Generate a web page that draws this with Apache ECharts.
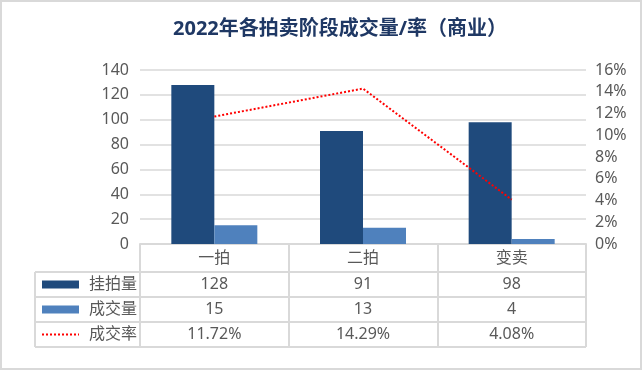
<!DOCTYPE html>
<html><head><meta charset="utf-8">
<script src="https://cdn.jsdelivr.net/npm/echarts@6/dist/echarts.min.js"></script>
<style>html,body{margin:0;padding:0;background:#fff}#c{width:644px;height:372px}</style>
</head><body><div id="c"></div>
<script>
const categories = ['一拍', '二拍', '变卖'];
const listed = [128, 91, 98];
const dealt = [15, 13, 4];
const rate = [11.72, 14.29, 4.08];
const seriesNames = ['挂拍量', '成交量', '成交率'];
const leftTicks = [0, 140, 20];
const rightTicks = [0, 16, 2];

const FONT = "'Noto Sans','Noto Sans CJK SC',sans-serif";
const GRAY = '#595959';
const LINE = '#D9D9D9';
const C1 = '#1F4A7C', C2 = '#4F81BD', C3 = '#FF0000';
const GL = 140, GR = 586, GT = 70, GB = 244, W = 644, H = 372;
const rows = [272, 297, 322, 347];
const TL = 35;

const chart = echarts.init(document.getElementById('c'), null, {renderer: 'canvas'});

const colW = (GR - GL) / categories.length;
const graphics = [];
graphics.push({type: 'rect', shape: {x: 1, y: 1, width: 640, height: 368}, style: {fill: 'none', stroke: LINE, lineWidth: 2}, silent: true});
rows.forEach(y => graphics.push({type: 'line', shape: {x1: TL, y1: y, x2: GR, y2: y}, style: {stroke: LINE, lineWidth: 2}, silent: true}));
graphics.push({type: 'line', shape: {x1: TL, y1: rows[0], x2: TL, y2: rows[3]}, style: {stroke: LINE, lineWidth: 2}, silent: true});
const rowVals = [listed.map(String), dealt.map(String), rate.map(v => v.toFixed(2) + '%')];
const colors = [C1, C2, C3];
for (let r = 0; r < 3; r++) {
  const cy = (rows[r] + rows[r + 1]) / 2;
  if (r < 2) {
    graphics.push({type: 'rect', shape: {x: 42, y: cy - 4, width: 37, height: 8}, style: {fill: colors[r]}, silent: true});
  } else {
    graphics.push({type: 'line', shape: {x1: 42, y1: cy, x2: 79, y2: cy}, style: {stroke: C3, lineWidth: 2, lineDash: [2, 2]}, silent: true});
  }
  graphics.push({type: 'text', left: 89, top: cy - 11, style: {text: seriesNames[r], font: '16px ' + FONT, fill: GRAY, lineHeight: 22}, silent: true});
  for (let c = 0; c < categories.length; c++) {
    graphics.push({type: 'text', x: GL + colW * (c + 0.5), y: cy, style: {text: rowVals[r][c], font: '16px ' + FONT, fill: GRAY, align: 'center', verticalAlign: 'middle'}, silent: true});
  }
}

chart.setOption({
  animation: false,
  backgroundColor: '#fff',
  title: {
    text: '2022年各拍卖阶段成交量/率（商业）',
    left: 168, top: 14,
    textStyle: {fontFamily: FONT, fontSize: 20, fontWeight: 'bold', color: '#1F3864'}
  },
  grid: {left: GL, right: W - GR, top: GT, bottom: H - GB, containLabel: false},
  xAxis: {
    type: 'category', data: categories,
    axisLine: {lineStyle: {color: LINE, width: 2}},
    axisTick: {show: true, length: rows[3] - GB, lineStyle: {color: LINE, width: 2}},
    axisLabel: {fontFamily: FONT, fontSize: 16, color: GRAY, margin: 6}
  },
  yAxis: [
    {type: 'value', min: leftTicks[0], max: leftTicks[1], interval: leftTicks[2],
     axisLine: {show: false}, axisTick: {show: false},
     axisLabel: {fontFamily: FONT, fontSize: 16, color: GRAY, margin: 11},
     splitLine: {lineStyle: {color: LINE, width: 1.5}}},
    {type: 'value', min: rightTicks[0], max: rightTicks[1], interval: rightTicks[2],
     axisLine: {show: false}, axisTick: {show: false},
     axisLabel: {fontFamily: FONT, fontSize: 16, color: GRAY, margin: 9, formatter: v => v + '%'},
     splitLine: {show: false}}
  ],
  series: [
    {name: seriesNames[0], type: 'bar', data: listed, barWidth: 43, barGap: '0%', itemStyle: {color: C1}},
    {name: seriesNames[1], type: 'bar', data: dealt, barWidth: 43, barGap: '0%', itemStyle: {color: C2}},
    {name: seriesNames[2], type: 'line', yAxisIndex: 1, data: rate, symbol: 'none',
     lineStyle: {color: C3, width: 2, type: [2, 2]}, z: 5}
  ],
  graphic: graphics
});
</script></body></html>
